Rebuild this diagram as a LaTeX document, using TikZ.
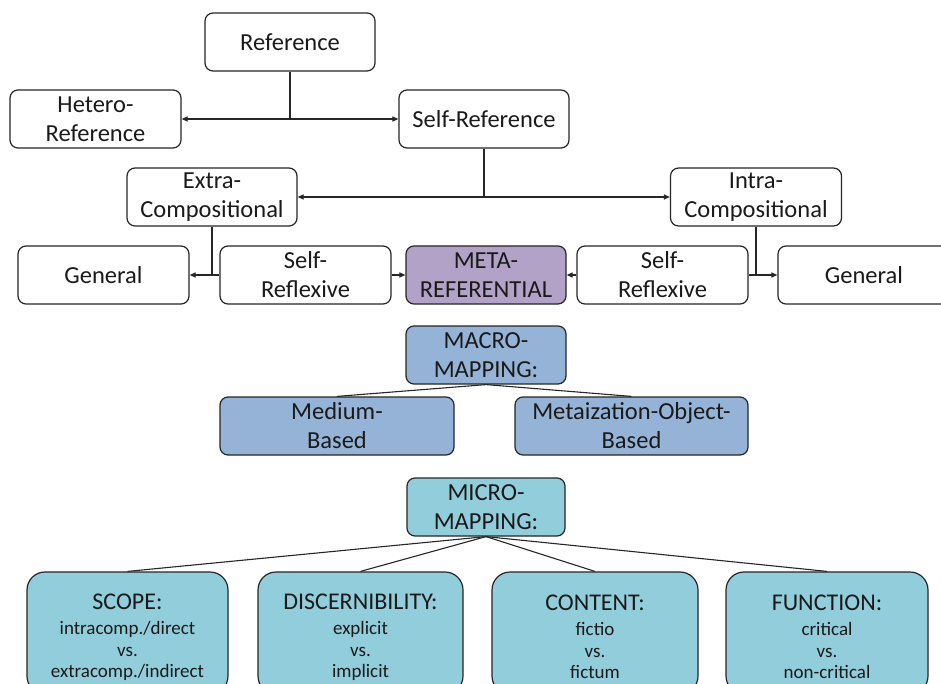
\documentclass[tikz,border=0pt]{standalone}
\usepackage{fontspec}
\setmainfont{Carlito}
\usetikzlibrary{arrows.meta}
\definecolor{metafill}{HTML}{B3A2C7}
\definecolor{macrofill}{HTML}{95B3D7}
\definecolor{microfill}{HTML}{92CDDC}
\definecolor{edgecol}{HTML}{262626}
\definecolor{textcol}{HTML}{1A1A1A}
\tikzset{
  box/.style={draw=edgecol, line width=1.2pt, rounded corners=8pt, fill=white,
    minimum height=58pt, inner sep=0pt, align=center, text=textcol,
    font=\fontsize{24.5}{29}\selectfont},
  bigbox/.style={draw=edgecol, line width=1.2pt, rounded corners=18pt, fill=microfill,
    minimum height=122pt, inner sep=0pt, align=center, text=textcol,
    font=\fontsize{19}{21.5}\selectfont},
  conn/.style={draw=edgecol, line width=1.1pt},
  arr/.style={conn, -{Triangle[length=6pt,width=5pt]}},
  darr/.style={conn, {Triangle[length=6pt,width=5pt]}-{Triangle[length=6pt,width=5pt]}}
}
\newcommand{\bigtitle}[1]{{\fontsize{24}{26}\selectfont #1}}
\begin{document}
\begin{tikzpicture}[x=1pt,y=-1pt]
\useasboundingbox (0,0) rectangle (941,684);
\clip (0,0) rectangle (941,684);
\fill[white] (0,0) rectangle (941,684);

\node[box, minimum width=170pt] (ref) at (290,42) {Reference};
\node[box, minimum width=171pt] (het) at (95.5,119) {Hetero-\\Reference};
\node[box, minimum width=170pt] (selfref) at (484,119) {Self-Reference};
\node[box, minimum width=170pt] (extra) at (212,197) {Extra-\\Compositional};
\node[box, minimum width=171pt] (intra) at (756,197) {Intra-\\Compositional};
\node[box, minimum width=171pt] (genL) at (103.5,275) {General};
\node[box, minimum width=171pt] (srL) at (305.5,275) {Self-\\Reflexive};
\node[box, minimum width=160pt, fill=metafill] (meta) at (486,275) {META-\\REFERENTIAL};
\node[box, minimum width=171pt] (srR) at (662.5,275) {Self-\\Reflexive};
\node[box, minimum width=172pt] (genR) at (864,275) {General};

\node[box, minimum width=160pt, fill=macrofill] (macro) at (486,355) {MACRO-\\MAPPING:};
\node[box, minimum width=234pt, fill=macrofill] (medium) at (337,426) {Medium-\\Based};
\node[box, minimum width=233pt, fill=macrofill] (metaobj) at (631.5,426) {Metaization-Object-\\Based};

\node[box, minimum width=158pt, fill=microfill] (micro) at (486,507) {MICRO-\\MAPPING:};
\node[bigbox, minimum width=201pt] (scope) at (127.5,633) {};
\node[bigbox, minimum width=205pt] (disc) at (360.5,633) {};
\node[bigbox, minimum width=206pt] (content) at (595,633) {};
\node[bigbox, minimum width=202pt] (func) at (827,633) {};
\node[align=center, inner sep=0pt, text=textcol, font=\fontsize{19}{21.5}\selectfont] (scopetxt) at (127.5,637) {\bigtitle{SCOPE:}\\[4pt]intracomp./direct\\vs.\\extracomp./indirect};
\node[align=center, inner sep=0pt, text=textcol, font=\fontsize{19}{21.5}\selectfont] (disctxt) at (360.5,637) {\bigtitle{DISCERNIBILITY:}\\[4pt]explicit\\vs.\\implicit};
\node[align=center, inner sep=0pt, text=textcol, font=\fontsize{19}{21.5}\selectfont] (contenttxt) at (595,637) {\bigtitle{CONTENT:}\\[4pt]fictio\\vs.\\fictum};
\node[align=center, inner sep=0pt, text=textcol, font=\fontsize{19}{21.5}\selectfont] (functxt) at (827,637) {\bigtitle{FUNCTION:}\\[4pt]critical\\vs.\\non-critical};

% connectors
\draw[conn] (ref.south) -- (ref.south |- het.east);
\draw[darr] (het.east) -- (selfref.west);
\draw[conn] (selfref.south) -- (selfref.south |- extra.east);
\draw[darr] (extra.east) -- (intra.west);
\draw[conn] (extra.south) -- (extra.south |- genL.east);
\draw[arr] (srL.west) -- (genL.east);
\draw[arr] (srL.east) -- (meta.west);
\draw[arr] (srR.west) -- (meta.east);
\draw[conn] (intra.south) -- (intra.south |- genR.west);
\draw[arr] (srR.east) -- (genR.west);

\draw[conn] (macro.south) -- (medium.north);
\draw[conn] (macro.south) -- (metaobj.north);

\draw[conn] (micro.south) -- (scope.north);
\draw[conn] (micro.south) -- (disc.north);
\draw[conn] (micro.south) -- (content.north);
\draw[conn] (micro.south) -- (func.north);
\end{tikzpicture}
\end{document}
